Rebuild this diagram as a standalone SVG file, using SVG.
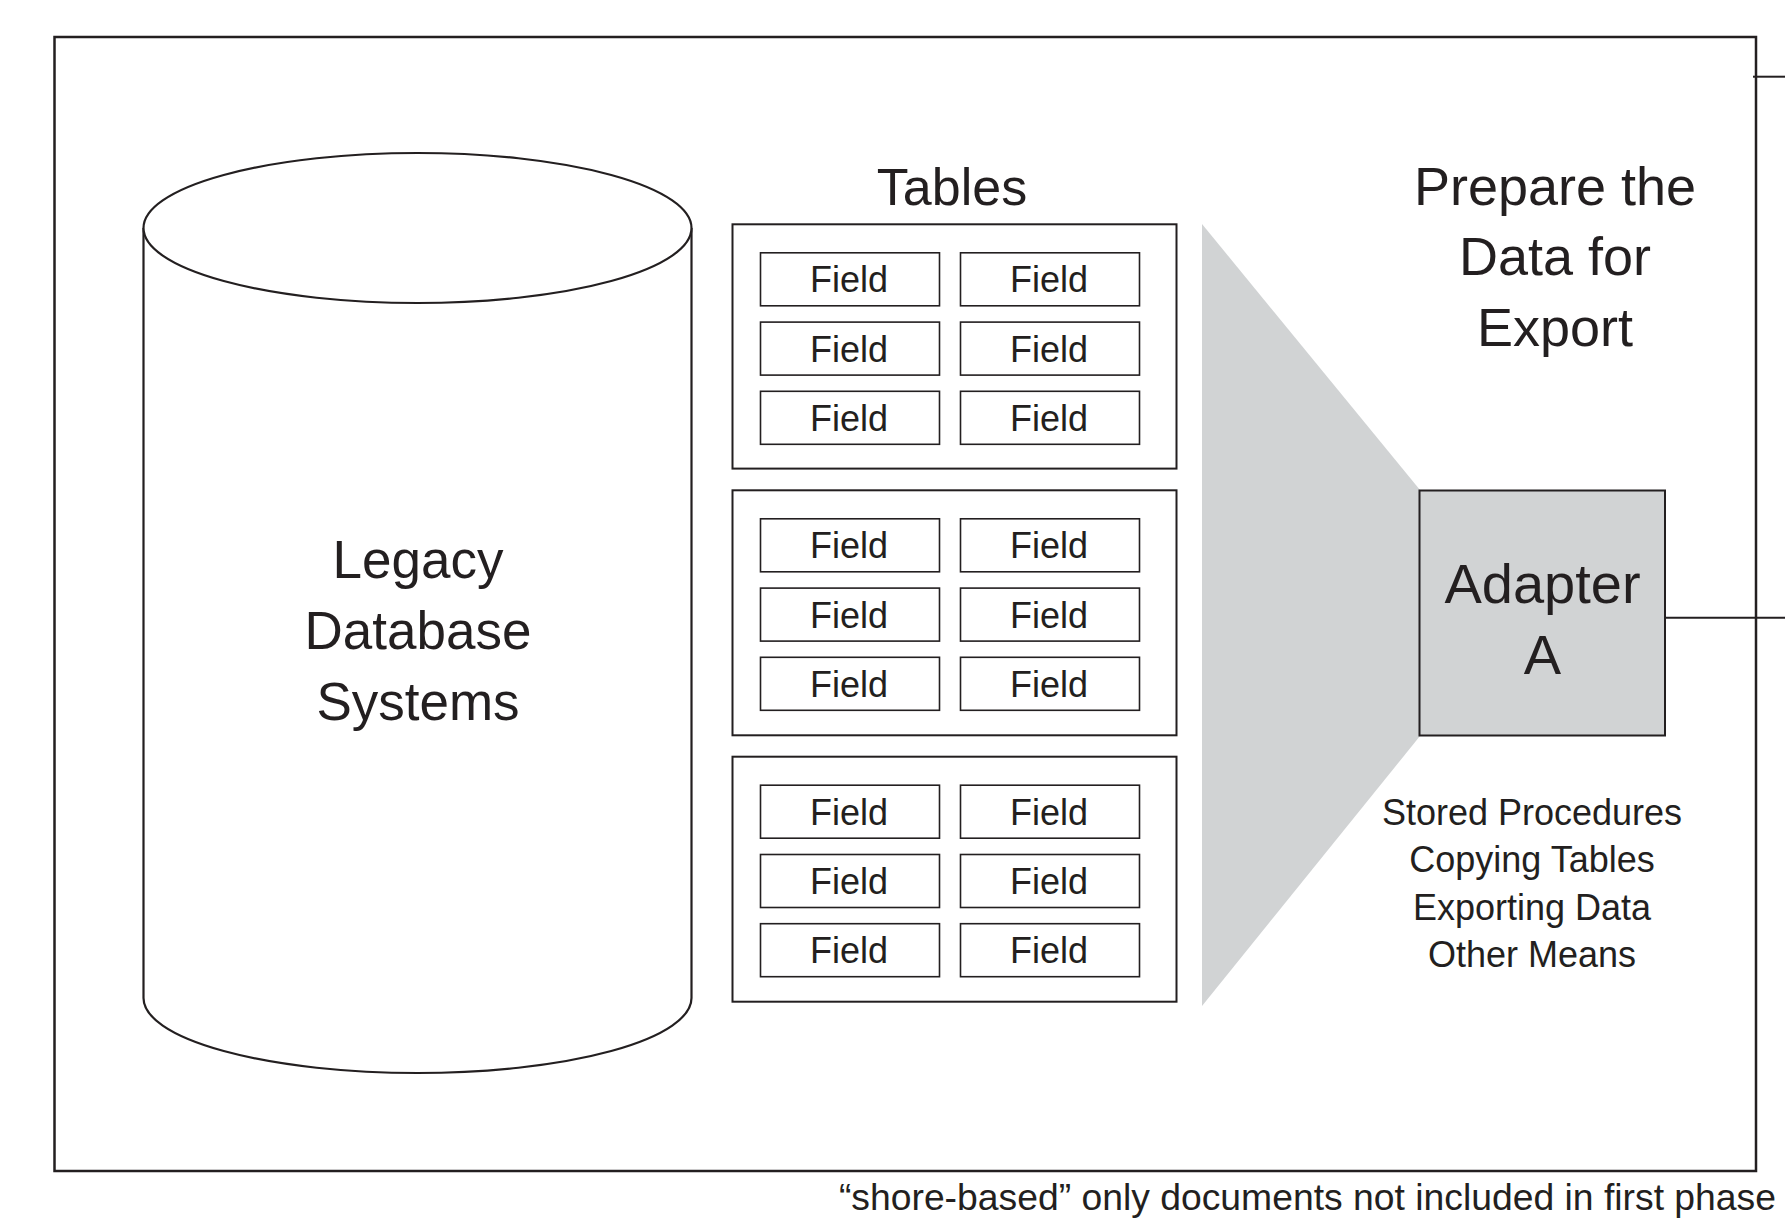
<svg xmlns="http://www.w3.org/2000/svg" width="1785" height="1225" viewBox="0 0 1785 1225">
<defs>
<style>
text{font-family:"Liberation Sans",Arial,sans-serif;fill:#231f20;text-anchor:middle}
.tbl{fill:#fff;stroke:#231f20;stroke-width:2}
.fld{fill:#fff;stroke:#231f20;stroke-width:1.6}
.ft{font-size:36px}
.ln{stroke:#231f20;stroke-width:2;fill:none}
</style>
<g id="fields">
<rect class="fld" x="28" y="28.5" width="179" height="53"/>
<text class="ft" x="116.5" y="68">Field</text>
<rect class="fld" x="228" y="28.5" width="179" height="53"/>
<text class="ft" x="316.5" y="68">Field</text>
<rect class="fld" x="28" y="97.8" width="179" height="53"/>
<text class="ft" x="116.5" y="137.3">Field</text>
<rect class="fld" x="228" y="97.8" width="179" height="53"/>
<text class="ft" x="316.5" y="137.3">Field</text>
<rect class="fld" x="28" y="167" width="179" height="53"/>
<text class="ft" x="116.5" y="206.5">Field</text>
<rect class="fld" x="228" y="167" width="179" height="53"/>
<text class="ft" x="316.5" y="206.5">Field</text>
</g>
</defs>
<rect width="1785" height="1225" fill="#fff"/>

<g id="frame">
<rect x="54.5" y="37" width="1701.5" height="1134" fill="none" stroke="#231f20" stroke-width="2.5"/>
</g>

<g id="legacy-db">
<path d="M143.5,228 L143.5,998 A274,75 0 0 0 691.5,998 L691.5,228" fill="#fff" stroke="#231f20" stroke-width="2.2"/>
<ellipse cx="417.5" cy="228" rx="274" ry="75" fill="#fff" stroke="#231f20" stroke-width="2.2"/>
<text x="418" y="578" font-size="53">Legacy</text>
<text x="418" y="649" font-size="53">Database</text>
<text x="418" y="720" font-size="53">Systems</text>
</g>

<g id="tables">
<text x="952" y="205" font-size="52">Tables</text>
<g id="table1">
<rect class="tbl" x="732.5" y="224.3" width="444" height="244.3"/>
<use href="#fields" x="732.5" y="224.3"/>
</g>
<g id="table2">
<rect class="tbl" x="732.5" y="490.3" width="444" height="245"/>
<use href="#fields" x="732.5" y="490.3"/>
</g>
<g id="table3">
<rect class="tbl" x="732.5" y="756.7" width="444" height="245"/>
<use href="#fields" x="732.5" y="756.7"/>
</g>
</g>

<g id="funnel">
<polygon points="1202,224 1420,490 1420,736 1202,1006" fill="#d1d3d4"/>
</g>

<g id="prepare-label">
<text x="1555" y="205" font-size="54">Prepare the</text>
<text x="1555" y="275" font-size="54">Data for</text>
<text x="1555" y="346" font-size="54">Export</text>
</g>

<g id="adapter-a">
<rect x="1419.5" y="490.5" width="245.5" height="245" fill="#d1d3d4" stroke="#231f20" stroke-width="2"/>
<text x="1542.5" y="603" font-size="56">Adapter</text>
<text x="1542.5" y="674" font-size="56">A</text>
</g>

<g id="methods">
<text x="1532" y="825" font-size="36">Stored Procedures</text>
<text x="1532" y="872" font-size="36">Copying Tables</text>
<text x="1532" y="920" font-size="36">Exporting Data</text>
<text x="1532" y="967" font-size="36">Other Means</text>
</g>

<g id="connectors">
<line class="ln" x1="1753" y1="76.7" x2="1785" y2="76.7" stroke-width="2.5"/>
<line class="ln" x1="1665" y1="617.7" x2="1785" y2="617.7" stroke-width="1.8"/>
</g>

<g id="footer">
<text x="1776" y="1210" font-size="37.3" style="text-anchor:end">“shore-based” only documents not included in first phase</text>
</g>
</svg>
